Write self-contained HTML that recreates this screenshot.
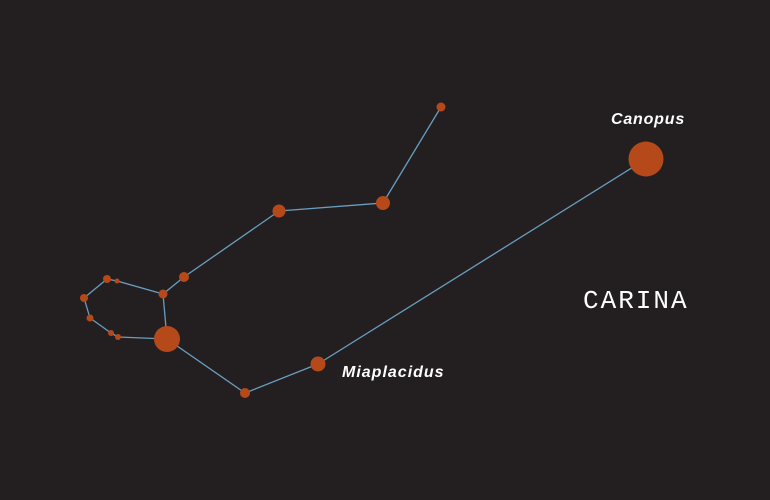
<!DOCTYPE html>
<html><head><meta charset="utf-8"><style>
html,body{margin:0;padding:0;background:#231f20;width:770px;height:500px;overflow:hidden}
svg{display:block}
</style></head><body>
<svg id="chart" width="770" height="500" xmlns="http://www.w3.org/2000/svg">
<rect width="770" height="500" fill="#231f20"/>
<g id="lines"></g>
<g id="stars"></g>
<text x="648" y="124" text-anchor="middle" fill="#fff" font-family="Liberation Sans, sans-serif" font-style="italic" font-weight="bold" font-size="16" letter-spacing="0.8">Canopus</text>
<text x="342" y="377" fill="#fff" font-family="Liberation Sans, sans-serif" font-style="italic" font-weight="bold" font-size="16" letter-spacing="1">Miaplacidus</text>
<text x="583" y="308" fill="#fff" font-family="Liberation Mono, monospace" font-size="26" letter-spacing="2">CARINA</text>
</svg>
<script>
const starX = [441,383,279,184,163,117,107,84,90,111,118,167,245,318,646];
const starY = [107,203,211,277,294,281,279,298,318,333,337,339,393,364,159];
const starR = [4.5,7,6.5,5,4.5,2.5,4,4,3.5,3,3,13,5,7.5,17.5];
const edgeFrom = [0,1,2,3,4,5,6,7,8,9,10,11,11,12,13];
const edgeTo   = [1,2,3,4,5,6,7,8,9,10,11,4,12,13,14];
const NS='http://www.w3.org/2000/svg';
const lg=document.getElementById('lines'), sg=document.getElementById('stars');
for(let i=0;i<edgeFrom.length;i++){
  const a=edgeFrom[i], b=edgeTo[i];
  const l=document.createElementNS(NS,'line');
  l.setAttribute('x1',starX[a]);l.setAttribute('y1',starY[a]);
  l.setAttribute('x2',starX[b]);l.setAttribute('y2',starY[b]);
  l.setAttribute('stroke','#6a9ec0');l.setAttribute('stroke-width','1.3');
  
  
  lg.appendChild(l);
}
for(let i=0;i<starX.length;i++){
  const c=document.createElementNS(NS,'circle');
  c.setAttribute('cx',starX[i]);c.setAttribute('cy',starY[i]);c.setAttribute('r',starR[i]);
  c.setAttribute('fill','#b5491a');
  
  
  sg.appendChild(c);
}
</script>
</body></html>
